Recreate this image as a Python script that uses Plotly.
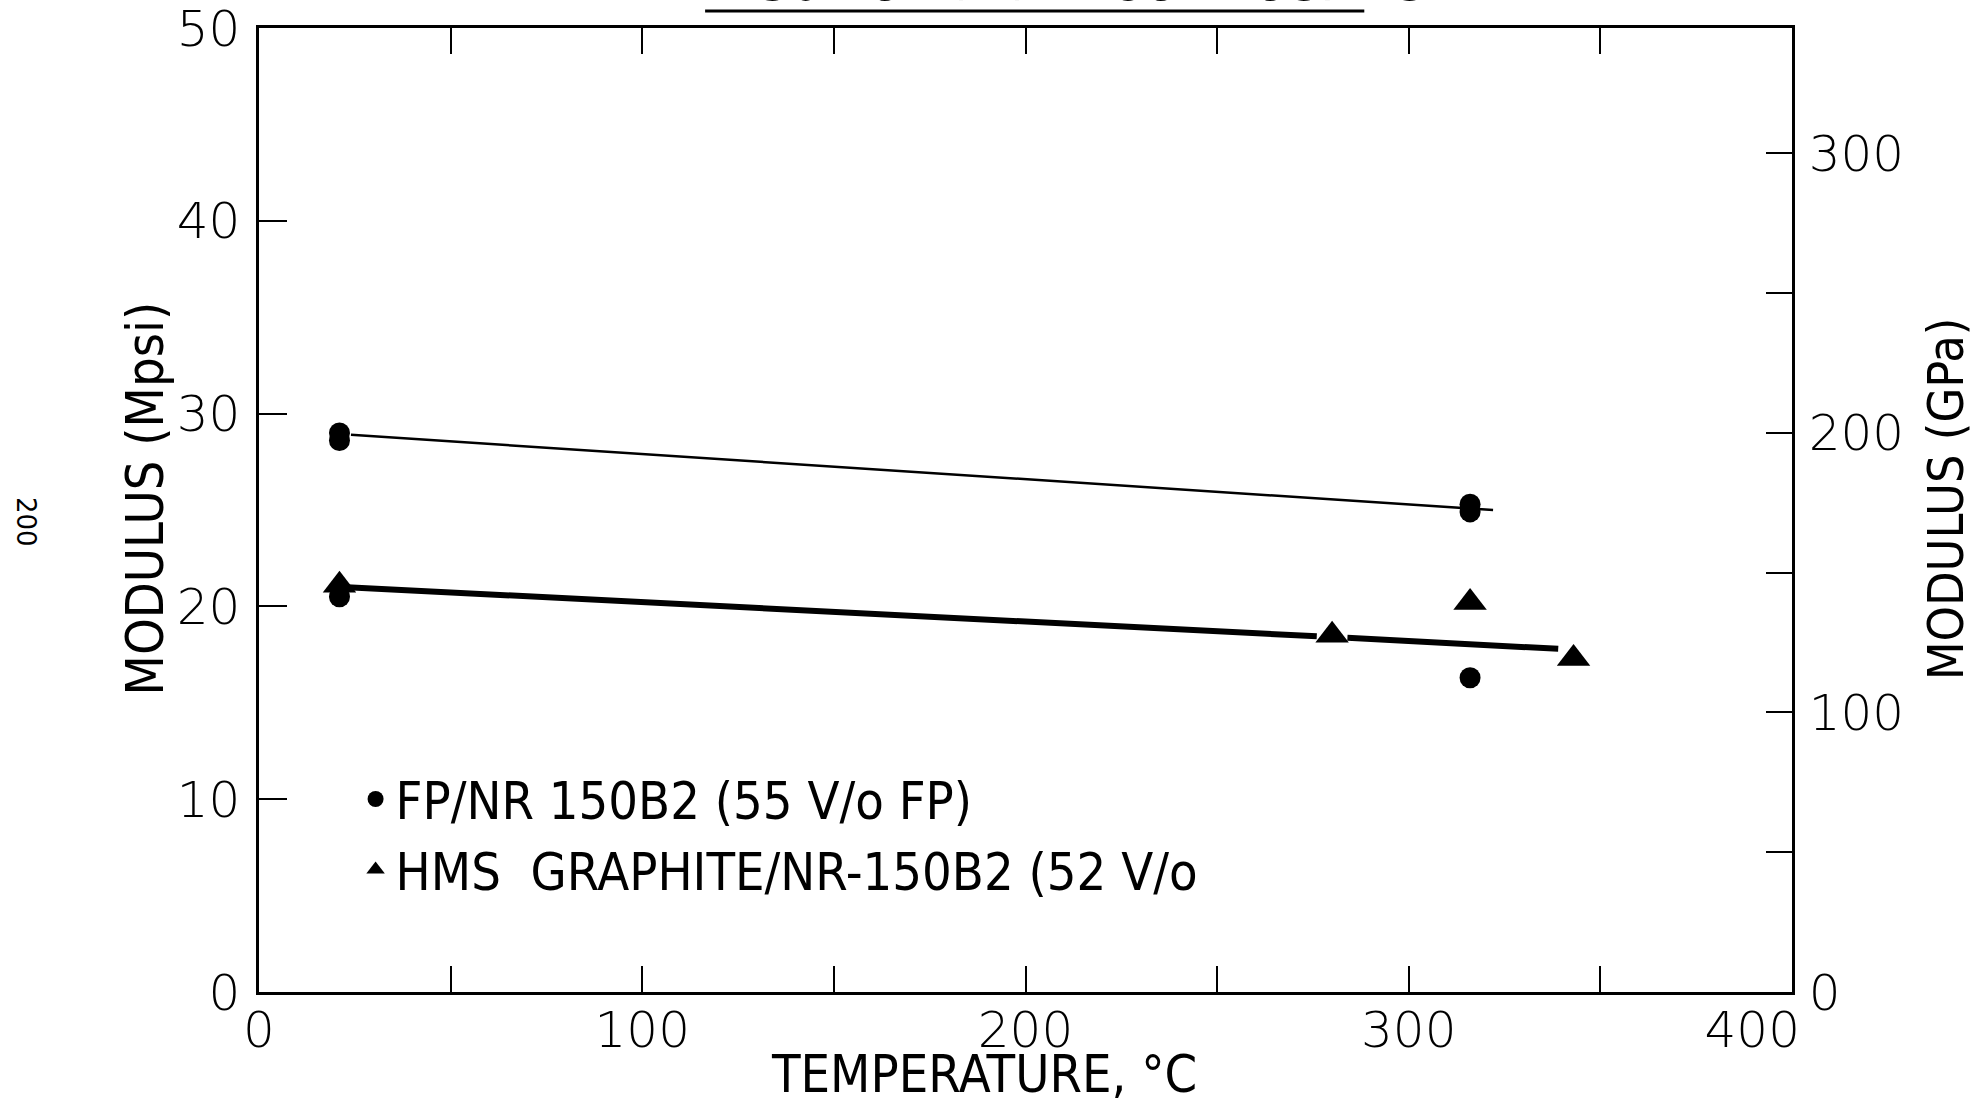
import plotly.graph_objects as go

# Datos (temperatura en °C, módulo en Mpsi)
fp_temp = [21, 21, 21, 316, 316, 316]
fp_modulus = [29.0, 28.6, 20.5, 25.3, 24.9, 16.3]

hms_temp = [21, 280, 316, 343]
hms_modulus = [21.1, 18.5, 20.2, 17.3]

# Rectas de ajuste dibujadas a mano (la de HMS se interrumpe en 280 °C)
fp_fit_temp = [24, 322]
fp_fit_modulus = [28.9, 25.0]
hms_fit_temp = [23, 276, None, 284, 339]
hms_fit_modulus = [21.0, 18.45, None, 18.37, 17.8]

x_ticks = [0, 100, 200, 300, 400]
# el "400" del original está rotulado a la izquierda de su marca
x_labels = ['0', '100', '200', '300', '400' + '\u00a0' * 5]
y_ticks = [0, 10, 20, 30, 40, 50]
gpa_ticks = [0, 50, 100, 150, 200, 250, 300]
gpa_labels = ['0', '', '100', '', '200', '', '300']

MPSI_TO_GPA = 6.895

TICK_FONT = dict(family='DejaVu Sans', size=50, color='black', weight=200)
NARROW = 'Liberation Sans Narrow, DejaVu Sans Condensed, sans-serif'

fig = go.Figure()

fig.add_trace(go.Scatter(
    x=fp_fit_temp, y=fp_fit_modulus, mode='lines',
    line=dict(color='black', width=2.5), showlegend=False, hoverinfo='skip'
))
fig.add_trace(go.Scatter(
    x=hms_fit_temp, y=hms_fit_modulus, mode='lines',
    line=dict(color='black', width=6), showlegend=False, hoverinfo='skip'
))

fig.add_trace(go.Scatter(
    x=fp_temp, y=fp_modulus, mode='markers',
    name='FP/NR 150B2 (55 V/o FP)',
    marker=dict(symbol='circle', size=21, color='black')
))
fig.add_trace(go.Scatter(
    x=hms_temp, y=hms_modulus, mode='markers',
    name='HMS  GRAPHITE/NR-150B2 (52 V/o',
    marker=dict(symbol='triangle-up', size=29, color='black')
))

# Eje secundario en GPa (traza invisible para activarlo)
fig.add_trace(go.Scatter(
    x=[0], y=[0], yaxis='y2', mode='markers',
    marker=dict(opacity=0), showlegend=False, hoverinfo='skip'
))

fig.update_layout(
    width=1979, height=1108,
    margin=dict(l=259, r=187, t=28, b=116),
    paper_bgcolor='white', plot_bgcolor='white',
    showlegend=True,
    legend=dict(
        x=0.063, y=0.242, xanchor='left', yanchor='top',
        font=dict(family=NARROW, size=52, color='black'),
        bgcolor='rgba(0,0,0,0)', itemwidth=30, tracegroupgap=0
    ),
    xaxis=dict(
        range=[0, 400], tickvals=x_ticks, ticktext=x_labels, ticks='inside', ticklen=26,
        tickwidth=2, tickcolor='black', tickfont=TICK_FONT,
        minor=dict(dtick=50, ticks='inside', ticklen=20, tickwidth=2, tickcolor='black'),
        showline=True, linecolor='black', linewidth=2.5, mirror='allticks',
        showgrid=False, zeroline=False, ticklabelstandoff=-8, automargin=False,
        ticklabeloverflow='allow'
    ),
    yaxis=dict(
        range=[0, 50.001], tickvals=y_ticks, ticks='inside', ticklen=28,
        tickwidth=2, tickcolor='black', tickfont=TICK_FONT,
        showline=True, linecolor='black', linewidth=2.5,
        showgrid=False, zeroline=False, ticklabelstandoff=6, automargin=False,
        ticklabeloverflow='allow'
    ),
    yaxis2=dict(
        overlaying='y', side='right', range=[0, 50.001 * MPSI_TO_GPA],
        tickvals=gpa_ticks, ticktext=gpa_labels, ticks='inside', ticklen=26,
        tickwidth=2, tickcolor='black', tickfont=TICK_FONT,
        showline=True, linecolor='black', linewidth=2.5,
        showgrid=False, zeroline=False, ticklabelstandoff=4, automargin=False,
        ticklabeloverflow='allow'
    ),
)

annotations = [
    dict(text='TEMPERATURE, °C', x=0.473, y=-0.1183, xref='paper', yref='paper',
         xanchor='center', yanchor='bottom', showarrow=False,
         font=dict(family=NARROW, size=52, color='black')),
    dict(text='MODULUS (Mpsi)', x=-0.0744, y=0.512, xref='paper', yref='paper',
         xanchor='center', yanchor='middle', textangle=-90, showarrow=False,
         font=dict(family=NARROW, size=52, color='black')),
    dict(text='MODULUS (GPa)', x=1.101, y=0.512, xref='paper', yref='paper',
         xanchor='center', yanchor='middle', textangle=-90, showarrow=False,
         font=dict(family=NARROW, size=50, color='black')),
    dict(text='200', x=-0.152, y=0.4876, xref='paper', yref='paper',
         xanchor='center', yanchor='middle', textangle=90, showarrow=False,
         font=dict(family='DejaVu Sans', size=26, color='black')),
    # título del original, casi todo fuera del borde superior
    dict(text='NR-150 POLYIMIDE COMPOSITES', x=0.506, y=1.0135, xref='paper', yref='paper',
         xanchor='center', yanchor='bottom', showarrow=False,
         font=dict(family=NARROW, size=54, color='black')),
]
fig.update_layout(annotations=annotations)

# Subrayado del título
fig.add_shape(type='line', xref='paper', yref='paper', x0=0.291, x1=0.721,
              y0=1.0176, y1=1.0176, line=dict(color='black', width=3))

# sin margen en <body> para que la figura ocupe la ventana desde la esquina
fig.write_html('out.html', config={'displayModeBar': False},
               post_script="document.body.style.margin='0';")
